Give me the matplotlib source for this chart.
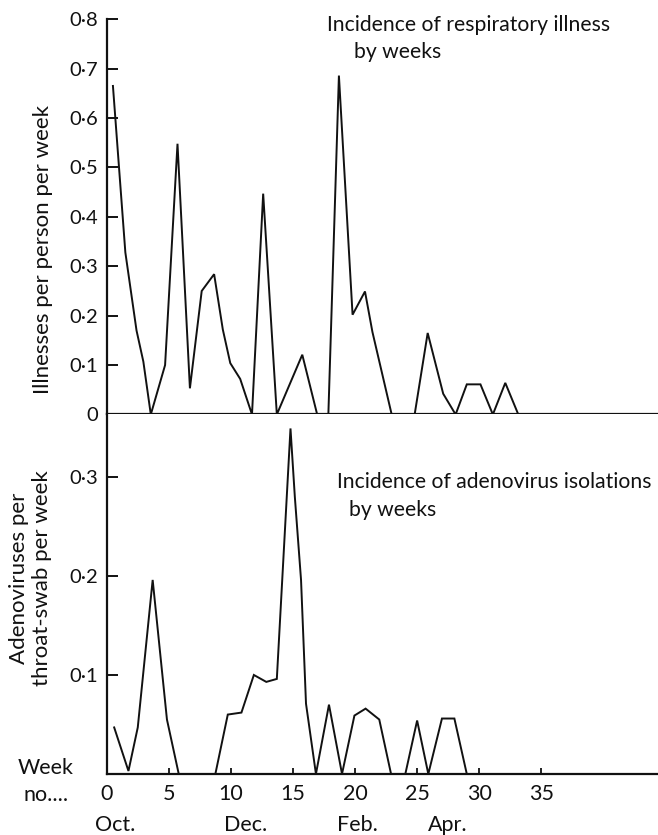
import matplotlib

matplotlib.use("Agg")

import matplotlib.pyplot as plt  # noqa: E402
from matplotlib.ticker import FixedLocator, FixedFormatter  # noqa: E402

# Respiratory illness per person per week (top panel)
ILL_WEEKS = [0.5, 1.5, 2.4, 2.95, 3.55, 4.7, 5.7, 6.7, 7.65, 8.65, 9.35, 9.95,
             10.75, 11.7, 12.6, 13.7, 15.75, 16.95, 17.85, 18.7, 19.8, 20.8,
             21.4, 22.95, 24.8, 25.85, 27.1, 28.1, 29.0, 30.1, 31.1, 32.1, 33.15]
ILL_RATE = [0.665, 0.328, 0.17, 0.107, 0.0, 0.1, 0.548, 0.053, 0.25, 0.284,
            0.172, 0.104, 0.072, 0.0, 0.447, 0.0, 0.121, 0.0, 0.0, 0.686,
            0.202, 0.249, 0.167, 0.0, 0.0, 0.165, 0.042, 0.0, 0.061, 0.061,
            0.0, 0.064, 0.0]

# Adenovirus isolations per throat-swab per week (bottom panel)
ADENO_WEEKS = [0.6, 1.75, 2.5, 3.7, 4.85, 5.8, 8.75, 9.75, 10.85, 11.85,
               12.85, 13.7, 14.8, 15.15, 15.65, 16.05, 16.85, 17.9, 18.95,
               19.95, 20.85, 21.95, 22.9, 24.05, 25.0, 25.9, 27.0, 28.0, 29.0]
ADENO_RATE = [0.047, 0.003, 0.047, 0.196, 0.055, 0.0, 0.0, 0.06, 0.062, 0.1,
              0.093, 0.096, 0.349, 0.28, 0.196, 0.071, 0.0, 0.07, 0.0, 0.059,
              0.066, 0.055, 0.0, 0.0, 0.054, 0.0, 0.056, 0.056, 0.0]

TOP_TICKS = [0, 0.1, 0.2, 0.3, 0.4, 0.5, 0.6, 0.7, 0.8]
TOP_LABELS = ["0", "0·1", "0·2", "0·3", "0·4", "0·5", "0·6", "0·7", "0·8"]
BOT_TICKS = [0.1, 0.2, 0.3]
BOT_LABELS = ["0·1", "0·2", "0·3"]
WEEK_TICKS = [0, 5, 10, 15, 20, 25, 30, 35]
MONTHS = ["Oct.", "Dec.", "Feb.", "Apr."]
MONTH_WEEKS = [0.7, 11.2, 20.2, 27.5]

INK = "#111111"
FONT = ["Lato", "DejaVu Sans"]
FS_TEXT = 15.2
FS_YTICK = 14.5
FS_XTICK = 15.5

plt.rcParams["font.family"] = FONT

fig = plt.figure(figsize=(6.58, 8.35), dpi=100)
fig.patch.set_facecolor("white")

left, width = 0.1622, 0.8378
ax_top = fig.add_axes([left, 0.5036, width, 0.4737])
ax_bot = fig.add_axes([left, 0.0731, width, 0.4305])

for ax in (ax_top, ax_bot):
    ax.set_xlim(0, 44.4)
    for side in ("top", "right"):
        ax.spines[side].set_visible(False)
    for side in ("left", "bottom"):
        ax.spines[side].set_linewidth(1.6)
        ax.spines[side].set_color(INK)
    ax.tick_params(axis="y", direction="in", length=8, width=1.4,
                   labelsize=FS_YTICK, colors=INK, pad=6)

ax_top.plot(ILL_WEEKS, ILL_RATE, color=INK, linewidth=1.4,
            solid_joinstyle="miter")
ax_top.set_ylim(0, 0.8006)
ax_top.yaxis.set_major_locator(FixedLocator(TOP_TICKS))
ax_top.yaxis.set_major_formatter(FixedFormatter(TOP_LABELS))
ax_top.set_xticks([])

ax_bot.plot(ADENO_WEEKS, ADENO_RATE, color=INK, linewidth=1.4,
            solid_joinstyle="miter")
ax_bot.set_ylim(0, 0.3631)
ax_bot.yaxis.set_major_locator(FixedLocator(BOT_TICKS))
ax_bot.yaxis.set_major_formatter(FixedFormatter(BOT_LABELS))
ax_bot.set_xticks(WEEK_TICKS)
ax_bot.set_xticklabels([str(w) for w in WEEK_TICKS])
ax_bot.tick_params(axis="x", direction="in", length=4, width=1.3,
                   labelsize=FS_XTICK, colors=INK, pad=7)

# axis titles
ax_top.text(-0.115, 0.416, "Illnesses per person per week", rotation=90,
            transform=ax_top.transAxes, ha="center", va="center",
            fontsize=16, color=INK)
ax_bot.text(-0.138, 0.545, "Adenoviruses per\nthroat-swab per week",
            rotation=90, transform=ax_bot.transAxes, ha="center",
            va="center", multialignment="center", fontsize=16,
            color=INK, linespacing=1.15)

# panel captions
ax_top.text(0.3996, 0.985, "Incidence of respiratory illness",
            transform=ax_top.transAxes, ha="left", va="center",
            fontsize=FS_TEXT, color=INK)
ax_top.text(0.4485, 0.916, "by weeks", transform=ax_top.transAxes,
            ha="left", va="center", fontsize=FS_TEXT, color=INK)
ax_bot.text(0.4175, 0.813, "Incidence of adenovirus isolations",
            transform=ax_bot.transAxes, ha="left", va="center",
            fontsize=FS_TEXT, color=INK)
ax_bot.text(0.4395, 0.735, "by weeks", transform=ax_bot.transAxes,
            ha="left", va="center", fontsize=FS_TEXT, color=INK)

# week axis annotation and months
fig.text(0.027, 0.080, "Week", ha="left", va="center", fontsize=FS_XTICK,
         color=INK)
fig.text(0.035, 0.048, "no....", ha="left", va="center", fontsize=FS_XTICK,
         color=INK)
month_tf = ax_bot.get_xaxis_transform()
for name, wk in zip(MONTHS, MONTH_WEEKS):
    ax_bot.text(wk, -0.142, name, transform=month_tf, ha="center",
                va="center", fontsize=FS_XTICK, color=INK, clip_on=False)

fig.savefig("out.png", dpi=100, facecolor=fig.get_facecolor())
